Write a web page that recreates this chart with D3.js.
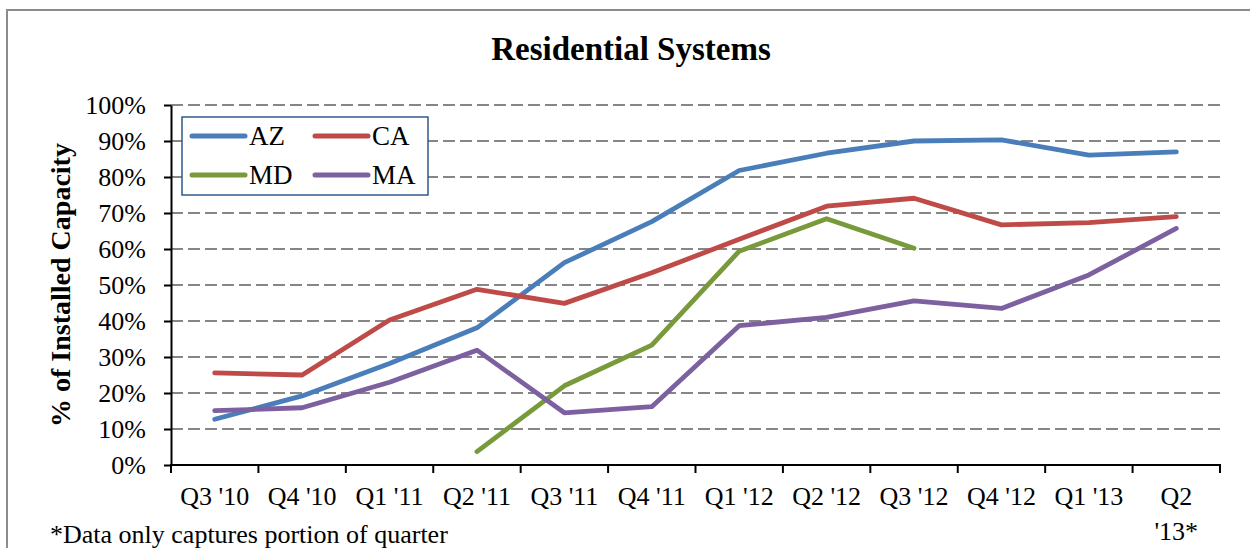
<!DOCTYPE html>
<html>
<head>
<meta charset="utf-8">
<script src="https://cdn.jsdelivr.net/npm/d3@7"></script>
<style>
  html, body { margin: 0; padding: 0; background: #fff; }
  text { font-family: "Liberation Serif", "Times New Roman", serif; fill: #000; }
</style>
</head>
<body>
<div id="chart"></div>
<script>
// data (share of installed capacity)
const quarters = ["Q3 '10", "Q4 '10", "Q1 '11", "Q2 '11", "Q3 '11", "Q4 '11",
                  "Q1 '12", "Q2 '12", "Q3 '12", "Q4 '12", "Q1 '13", "Q2 '13*"]
const azValues = [0.127, 0.192, 0.282, 0.381, 0.562, 0.676, 0.818, 0.866, 0.900, 0.903, 0.861, 0.870]
const caValues = [0.256, 0.250, 0.403, 0.488, 0.449, 0.534, 0.627, 0.719, 0.741, 0.667, 0.673, 0.690]
const mdValues = [null, null, null, 0.037, 0.220, 0.333, 0.594, 0.684, 0.602, null, null, null]
const maValues = [0.151, 0.159, 0.230, 0.319, 0.145, 0.162, 0.387, 0.410, 0.456, 0.435, 0.528, 0.657]
const seriesNames = ["AZ", "CA", "MD", "MA"]
const yTicks = [0, 0.1, 0.2, 0.3, 0.4, 0.5, 0.6, 0.7, 0.8, 0.9, 1.0]

const seriesColors = {AZ: "#4a7ebb", CA: "#be4b48", MD: "#789a3a", MA: "#7d60a0"}

const W = 1250, H = 548
const margin = {top: 105, right: 30, bottom: 83, left: 171}

const svg = d3.select("#chart").append("svg")
    .attr("width", W)
    .attr("height", H)

// outer frame (right and bottom sides fall outside the picture)
svg.append("rect")
    .attr("x", 7).attr("y", 10)
    .attr("width", W + 20).attr("height", H + 20)
    .attr("fill", "none")
    .attr("stroke", "#8c8c8c")
    .attr("stroke-width", 2)

const xScale = d3.scaleBand()
    .domain(quarters)
    .range([margin.left, 1220])
    .padding(0)

const yScale = d3.scaleLinear()
    .domain([0, 1])
    .range([H - margin.bottom, margin.top])

const cx = q => xScale(q) + xScale.bandwidth() / 2

// dashed gridlines
svg.append("g")
    .selectAll("line")
    .data(yTicks.filter(d => d > 0))
    .join("line")
    .attr("x1", margin.left).attr("x2", 1220)
    .attr("y1", d => yScale(d)).attr("y2", d => yScale(d))
    .attr("stroke", "#868686")
    .attr("stroke-width", 2)
    .attr("stroke-dasharray", "12,5")

// y axis
const yAxis = d3.axisLeft(yScale)
    .tickValues(yTicks)
    .tickFormat(d3.format(".0%"))
    .tickSize(7)
    .tickSizeOuter(0)
    .tickPadding(18)

const yGroup = svg.append("g")
    .attr("transform", `translate(${margin.left},0)`)
    .call(yAxis)
yGroup.select(".domain").attr("stroke", "#000").attr("stroke-width", 2)
yGroup.selectAll(".tick line").attr("stroke", "#000").attr("stroke-width", 2)
yGroup.selectAll(".tick text")
    .attr("font-size", 26)
    .attr("fill", "#000")
    .style("font-family", "'Liberation Serif', serif")

// x axis: ticks on band edges, labels at band centres
const xGroup = svg.append("g")
const baseY = yScale(0)
xGroup.append("line")
    .attr("x1", margin.left - 1).attr("x2", 1221)
    .attr("y1", baseY).attr("y2", baseY)
    .attr("stroke", "#000").attr("stroke-width", 2)

const edges = quarters.map(q => xScale(q)).concat([xScale.range()[1]])
xGroup.selectAll(".xtick")
    .data(edges)
    .join("line")
    .attr("class", "xtick")
    .attr("x1", d => d).attr("x2", d => d)
    .attr("y1", baseY).attr("y2", baseY + 8)
    .attr("stroke", "#000").attr("stroke-width", 2)

const xLabels = xGroup.selectAll(".xlabel")
    .data(quarters)
    .join("text")
    .attr("class", "xlabel")
    .attr("x", d => cx(d))
    .attr("y", baseY + 40)
    .attr("text-anchor", "middle")
    .attr("font-size", 26)
    .text(d => d)

// wrap labels that do not fit the band (like the last one)
xLabels.each(function(d) {
    const t = d3.select(this)
    if (this.getComputedTextLength() > xScale.bandwidth() - 8) {
        const parts = d.split(" ")
        t.text(null)
        parts.forEach((p, i) => {
            t.append("tspan")
                .attr("x", cx(d))
                .attr("dy", i === 0 ? 0 : 35)
                .text(p)
        })
    }
})

// series lines
const seriesData = [
    {key: "AZ", values: azValues},
    {key: "CA", values: caValues},
    {key: "MD", values: mdValues},
    {key: "MA", values: maValues}
]

const lineGen = d3.line()
    .defined(d => d.v != null)
    .x(d => cx(d.q))
    .y(d => yScale(d.v))

svg.append("g")
    .selectAll("path")
    .data(seriesData)
    .join("path")
    .attr("d", s => lineGen(s.values.map((v, i) => ({q: quarters[i], v}))))
    .attr("fill", "none")
    .attr("stroke", s => seriesColors[s.key])
    .attr("stroke-width", 4.8)
    .attr("stroke-linejoin", "round")
    .attr("stroke-linecap", "round")

// title
svg.append("text")
    .attr("x", 631)
    .attr("y", 60)
    .attr("text-anchor", "middle")
    .attr("font-size", 33)
    .attr("font-weight", "bold")
    .text("Residential Systems")

// y axis label
svg.append("text")
    .attr("transform", "translate(70,285) rotate(-90)")
    .attr("text-anchor", "middle")
    .attr("font-size", 28)
    .attr("font-weight", "bold")
    .text("% of Installed Capacity")

// legend
const legend = svg.append("g").attr("transform", "translate(182,117)")
legend.append("rect")
    .attr("width", 246).attr("height", 78)
    .attr("fill", "#fff")
    .attr("stroke", "#2f5a8f")
    .attr("stroke-width", 1.5)

const legendItems = legend.selectAll(".item")
    .data(seriesNames)
    .join("g")
    .attr("class", "item")
    .attr("transform", (d, i) => `translate(${10 + (i % 2) * 123},${19 + Math.floor(i / 2) * 39})`)

legendItems.append("line")
    .attr("x1", 0).attr("x2", 53)
    .attr("stroke", d => seriesColors[d])
    .attr("stroke-width", 5)
    .attr("stroke-linecap", "round")

legendItems.append("text")
    .attr("x", 57)
    .attr("y", 9)
    .attr("font-size", 27)
    .text(d => d)

// footnote
svg.append("text")
    .attr("x", 50)
    .attr("y", 543)
    .attr("font-size", 26)
    .text("*Data only captures portion of quarter")
</script>
</body>
</html>
